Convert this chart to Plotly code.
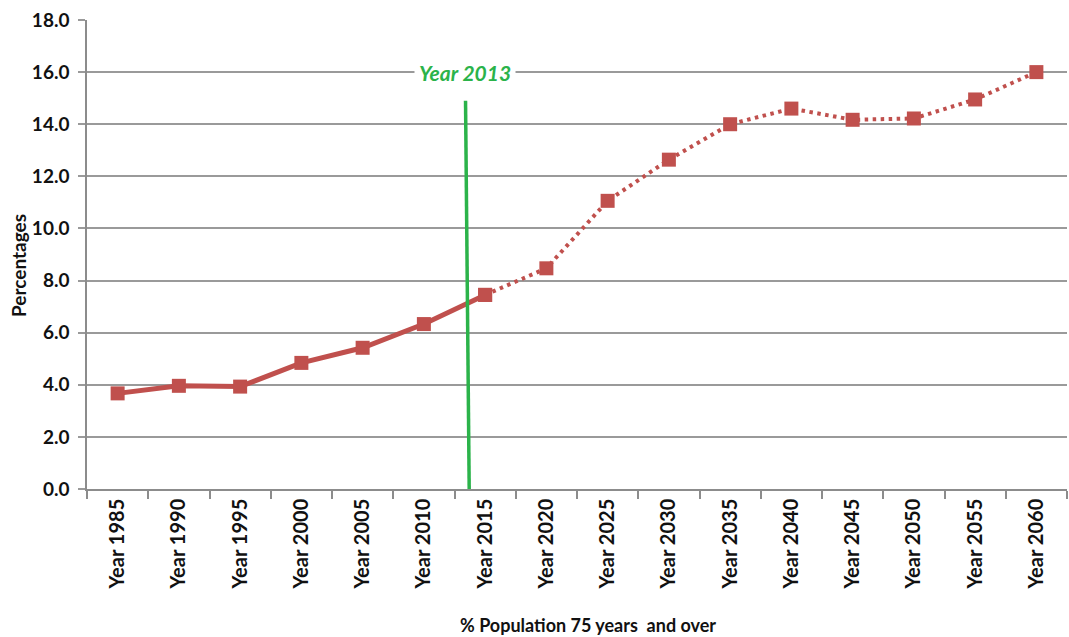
import plotly.graph_objects as go

categories = ["Year 1985", "Year 1990", "Year 1995", "Year 2000", "Year 2005", "Year 2010",
              "Year 2015", "Year 2020", "Year 2025", "Year 2030", "Year 2035", "Year 2040",
              "Year 2045", "Year 2050", "Year 2055", "Year 2060"]
values = [3.67, 3.96, 3.93, 4.84, 5.42, 6.33, 7.45, 8.47, 11.06, 12.64, 14.0, 14.6,
          14.17, 14.22, 14.95, 16.0]
observed_count = 7  # 1985..2015 drawn solid, rest dotted
marker_year_pos = 5.72  # position of the "Year 2013" marker on the category axis
marker_top = 14.9
marker_label = "Year 2013"

RED = "#c0504d"
GREEN = "#2bb34a"
FONT = "Lato"

fig = go.Figure()
fig.add_trace(go.Scatter(
    x=categories[observed_count - 1:], y=values[observed_count - 1:],
    mode="lines+markers",
    line=dict(color=RED, width=4, dash="3.5px,4.5px"),
    marker=dict(symbol="square", size=14, color=RED),
    showlegend=False, hoverinfo="x+y"))
fig.add_trace(go.Scatter(
    x=categories[:observed_count], y=values[:observed_count],
    mode="lines+markers",
    line=dict(color=RED, width=5),
    marker=dict(symbol="square", size=14, color=RED),
    showlegend=False, hoverinfo="x+y"))

fig.add_shape(type="line", xref="x", yref="y",
              x0=marker_year_pos - 0.04, x1=marker_year_pos + 0.02, y0=marker_top, y1=0,
              line=dict(color=GREEN, width=3.5))
fig.add_annotation(x=marker_year_pos - 0.05, y=16.0, xref="x", yref="y",
                   text="<b><i>" + marker_label + "</i></b>", showarrow=False,
                   font=dict(family=FONT, size=21, color=GREEN),
                   bgcolor="white", borderpad=4, xanchor="center", yanchor="middle")

fig.add_annotation(x=588, y=625, xref="paper", yref="paper",
                   text="<b>% Population 75 years  and over</b>", showarrow=False,
                   font=dict(family=FONT, size=18, color="#111"),
                   xanchor="center", yanchor="middle")
fig.add_annotation(x=18, y=266, xref="paper", yref="paper",
                   text="<b>Percentages</b>", showarrow=False, textangle=-90,
                   font=dict(family=FONT, size=19, color="#111"),
                   xanchor="center", yanchor="middle")

fig.update_layout(
    width=1069, height=637,
    margin=dict(l=87, r=2, t=20, b=148),
    paper_bgcolor="white", plot_bgcolor="white",
    font=dict(family=FONT, size=15, color="#111"),
    xaxis=dict(
        type="category", categoryorder="array", categoryarray=categories,
        tickangle=-90, tickson="boundaries", ticks="outside", ticklen=8,
        tickcolor="#8c8c8c", tickwidth=1.5,
        showline=True, linecolor="#8c8c8c", linewidth=1.5,
        showgrid=False, range=[-0.5, 15.5],
        tickfont=dict(family=FONT, size=20, color="#111", weight="bold"),
    ),
    yaxis=dict(
        range=[0, 18], dtick=2, tickformat=".1f",
        showgrid=True, gridcolor="#9a9a9a", gridwidth=1.5,
        ticks="outside", ticklen=7, tickcolor="#9a9a9a", tickwidth=1.5,
        showline=True, linecolor="#8c8c8c", linewidth=1.5,
        zeroline=False, ticklabelstandoff=5,
        tickfont=dict(family=FONT, size=19, color="#111", weight="bold"),
    ),
)

# convert pixel-placed annotations to paper coordinates
W, H = 1069, 637
ml, mr, mt, mb = 87, 2, 20, 148
pw, ph = W - ml - mr, H - mt - mb
for ann in fig.layout.annotations:
    if ann.xref == "paper":
        ann.x = (ann.x - ml) / pw
        ann.y = (H - mb - ann.y) / ph

fig.write_html("out.html")
